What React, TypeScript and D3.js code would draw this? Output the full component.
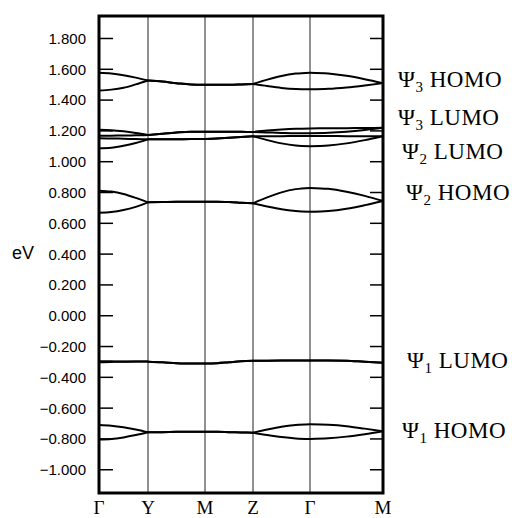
import React from 'react';
import * as d3 from 'd3';

// high-symmetry points along the k-path
const kLabels = ['Γ', 'Y', 'M', 'Z', 'Γ', 'M'];
const kNodes = [0, 49, 106, 154, 211, 284];

// sample positions along the path (5 per segment, shared ends)
const kPath = [
  0, 12.25, 24.5, 36.75, 49,
  63.25, 77.5, 91.75, 106,
  118, 130, 142, 154,
  168.25, 182.5, 196.75, 211,
  229.25, 247.5, 265.75, 284,
];

// energies (eV)
const psi3HomoUp = [1.578, 1.573, 1.562, 1.546, 1.527, 1.520, 1.510, 1.502, 1.500, 1.500, 1.500, 1.502, 1.505, 1.533, 1.557, 1.572, 1.578, 1.573, 1.558, 1.536, 1.510];
const psi3HomoLo = [1.462, 1.468, 1.480, 1.502, 1.527, 1.520, 1.510, 1.502, 1.500, 1.500, 1.500, 1.502, 1.505, 1.491, 1.479, 1.472, 1.470, 1.473, 1.482, 1.495, 1.510];
const psi3LumoUp = [1.208, 1.205, 1.197, 1.186, 1.173, 1.182, 1.190, 1.195, 1.195, 1.195, 1.195, 1.194, 1.193, 1.202, 1.209, 1.214, 1.216, 1.217, 1.218, 1.219, 1.220];
const psi3LumoLo = [1.168, 1.169, 1.170, 1.171, 1.173, 1.182, 1.190, 1.195, 1.195, 1.195, 1.195, 1.194, 1.193, 1.190, 1.187, 1.185, 1.185, 1.188, 1.195, 1.206, 1.220];
const psi2LumoUp = [1.152, 1.151, 1.149, 1.147, 1.145, 1.145, 1.146, 1.147, 1.148, 1.150, 1.155, 1.160, 1.165, 1.166, 1.166, 1.167, 1.167, 1.167, 1.166, 1.166, 1.165];
const psi2LumoLo = [1.087, 1.091, 1.104, 1.122, 1.145, 1.145, 1.146, 1.147, 1.148, 1.150, 1.155, 1.160, 1.165, 1.140, 1.119, 1.105, 1.100, 1.105, 1.119, 1.140, 1.165];
const psi2HomoUp = [0.812, 0.806, 0.790, 0.765, 0.736, 0.738, 0.740, 0.740, 0.740, 0.740, 0.738, 0.734, 0.730, 0.768, 0.801, 0.822, 0.830, 0.824, 0.805, 0.778, 0.745];
const psi2HomoLo = [0.668, 0.673, 0.686, 0.707, 0.736, 0.738, 0.740, 0.740, 0.740, 0.740, 0.738, 0.734, 0.730, 0.709, 0.691, 0.680, 0.675, 0.680, 0.695, 0.718, 0.745];
const psi1LumoA = [-0.295, -0.296, -0.297, -0.297, -0.298, -0.302, -0.308, -0.311, -0.310, -0.308, -0.302, -0.296, -0.293, -0.292, -0.291, -0.290, -0.290, -0.290, -0.292, -0.299, -0.305];
const psi1LumoB = [-0.302, -0.300, -0.299, -0.298, -0.298, -0.302, -0.308, -0.311, -0.310, -0.308, -0.302, -0.296, -0.293, -0.292, -0.291, -0.290, -0.290, -0.290, -0.292, -0.299, -0.305];
const psi1HomoUp = [-0.710, -0.714, -0.724, -0.739, -0.757, -0.756, -0.754, -0.753, -0.753, -0.754, -0.756, -0.758, -0.760, -0.739, -0.721, -0.710, -0.705, -0.708, -0.717, -0.733, -0.750];
const psi1HomoLo = [-0.803, -0.800, -0.790, -0.775, -0.757, -0.756, -0.754, -0.753, -0.753, -0.754, -0.756, -0.758, -0.760, -0.775, -0.788, -0.797, -0.800, -0.796, -0.785, -0.769, -0.750];

const bands = [
  psi3HomoUp, psi3HomoLo, psi3LumoUp, psi3LumoLo, psi2LumoUp, psi2LumoLo,
  psi2HomoUp, psi2HomoLo, psi1LumoA, psi1LumoB, psi1HomoUp, psi1HomoLo,
];

const yTicks = [-1.0, -0.8, -0.6, -0.4, -0.2, 0, 0.2, 0.4, 0.6, 0.8, 1.0, 1.2, 1.4, 1.6, 1.8];

// band labels on the right: subscript, name, energy of text centre, x offset
const labelSubs = ['3', '3', '2', '2', '1', '1'];
const labelNames = ['HOMO', 'LUMO', 'LUMO', 'HOMO', 'LUMO', 'HOMO'];
const labelEnergy = [1.531, 1.284, 1.063, 0.797, -0.288, -0.742];
const labelDx = [15, 15, 19, 23, 24, 19];

const W = 512;
const H = 518;
const left = 99, right = 383, top = 16, bottom = 493;

export default function App() {
  const x = d3.scaleLinear().domain([0, 284]).range([left, right]);
  const y = d3.scaleLinear().domain([-1.151, 1.946]).range([bottom, top]);
  const line = d3.line<[number, number]>()
    .x(d => x(d[0]))
    .y(d => y(d[1]))
    .curve(d3.curveMonotoneX);
  const fmt = d3.format('.3f');

  // split each band into segments between high-symmetry points so cusps stay sharp
  const segs: string[] = [];
  bands.forEach(b => {
    for (let s = 0; s < 5; s++) {
      const pts: [number, number][] = [];
      for (let i = s * 4; i <= s * 4 + 4; i++) pts.push([kPath[i], b[i]]);
      segs.push(line(pts) as string);
    }
  });

  return (
    <svg width={W} height={H} style={{ position: 'absolute', left: 0, top: 0, background: '#fff' }}>
      {kNodes.slice(1, -1).map((k, i) => (
        <line key={'v' + i} x1={x(k)} x2={x(k)} y1={top} y2={bottom} stroke="#222" strokeWidth={1} />
      ))}
      {yTicks.map((t, i) => (
        <g key={'t' + i}>
          <line x1={left} x2={left + 14} y1={y(t)} y2={y(t)} stroke="#000" strokeWidth={1.5} />
          <line x1={right - 13} x2={right} y1={y(t)} y2={y(t)} stroke="#000" strokeWidth={1.5} />
          <text x={86} y={y(t)} dy="0.36em" textAnchor="end" fontFamily="Liberation Sans, Arial, sans-serif" fontSize={15} fill="#000">
            {fmt(t)}
          </text>
        </g>
      ))}
      {segs.map((d, i) => (
        <path key={'b' + i} d={d} fill="none" stroke="#000" strokeWidth={2} />
      ))}
      <rect x={left} y={top} width={right - left} height={bottom - top} fill="none" stroke="#000" strokeWidth={3} />
      <text x={12} y={258.5} fontFamily="Liberation Sans, Arial, sans-serif" fontSize={18} fill="#000">eV</text>
      {kNodes.map((k, i) => (
        <text key={'k' + i} x={x(k)} y={513.5} textAnchor="middle" fontFamily="Liberation Serif, Times New Roman, serif" fontSize={19} fill="#000">
          {kLabels[i]}
        </text>
      ))}
      {labelNames.map((n, i) => (
        <text key={'l' + i} x={right + labelDx[i]} y={y(labelEnergy[i]) + 7.5} fontFamily="Liberation Serif, Times New Roman, serif" fontSize={23} letterSpacing={0.5} fill="#000">
          Ψ<tspan fontSize={15} dy={5}>{labelSubs[i]}</tspan><tspan dy={-5}>{' ' + n}</tspan>
        </text>
      ))}
    </svg>
  );
}
